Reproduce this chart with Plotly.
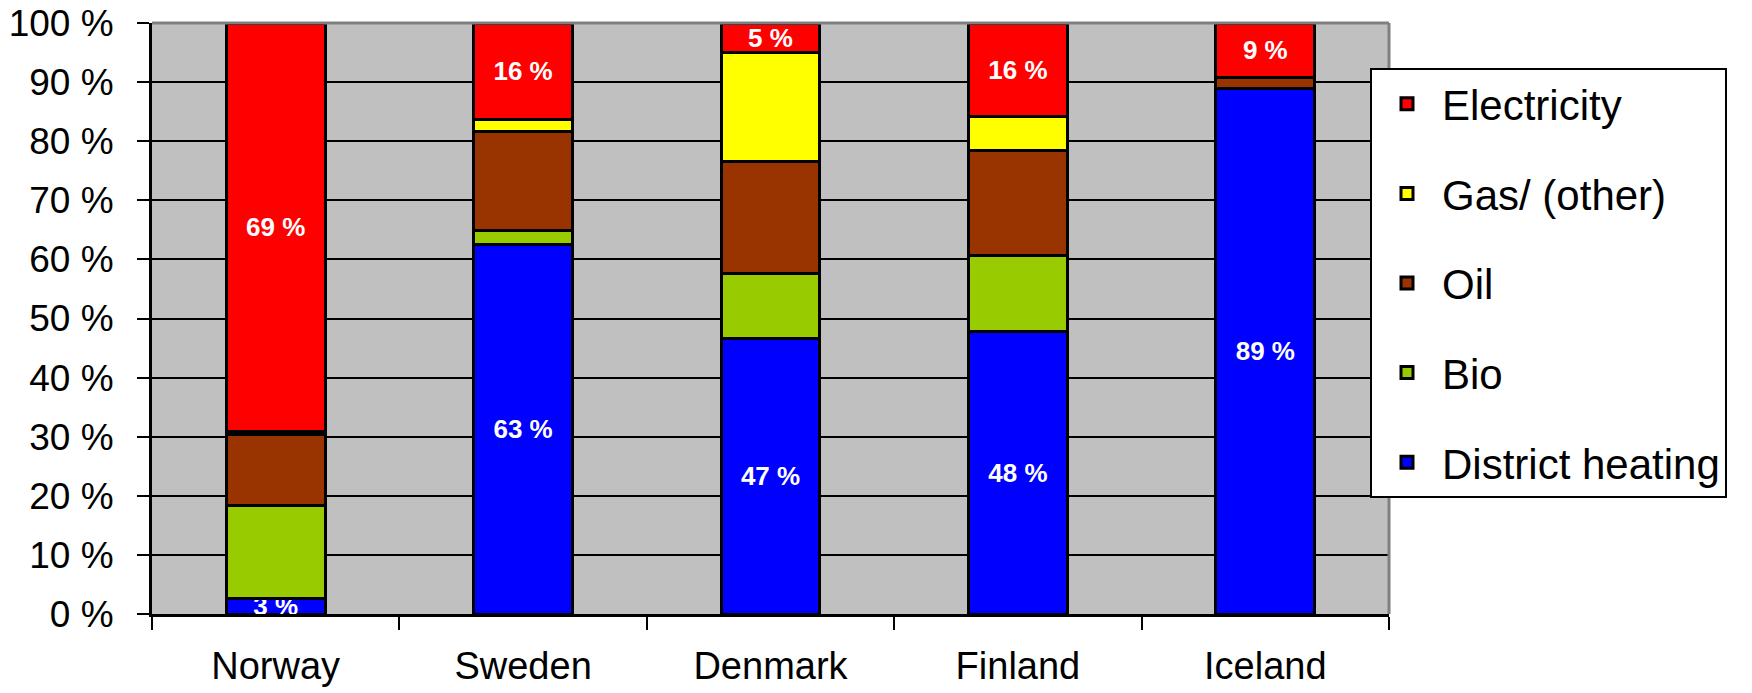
import plotly.graph_objects as go

countries = ["Norway", "Sweden", "Denmark", "Finland", "Iceland"]
district_heating = [2.6, 62.6, 46.7, 47.8, 88.9]
bio = [15.7, 2.3, 10.9, 12.8, 0.0]
oil = [12.0, 16.7, 18.9, 17.9, 1.9]
gas_other = [0.6, 2.0, 18.5, 5.6, 0.0]
electricity = [69.1, 16.4, 5.0, 15.9, 9.2]
y_ticks = [0, 10, 20, 30, 40, 50, 60, 70, 80, 90, 100]
y_tick_labels = [f"{v} %" for v in y_ticks]

series = [
    ("District heating", district_heating, "#0000FF", True, 5),
    ("Bio", bio, "#99CC00", False, 4),
    ("Oil", oil, "#993300", False, 3),
    ("Gas/ (other)", gas_other, "#FFFF00", False, 2),
    ("Electricity", electricity, "#FF0000", True, 1),
]

FONT = "Liberation Sans, Arial, sans-serif"

# page body adds an 8px offset; figure is sized so that it fills the window
W, H = 1744, 685
ML, MT, MR, MB = 144, 15, 363, 79
plot_w = W - ML - MR
plot_h = H - MT - MB

fig = go.Figure()
for name, vals, color, labelled, rank in series:
    fig.add_trace(go.Bar(
        x=countries, y=vals, name=name, legendgroup=name, legendrank=rank,
        marker=dict(color=color, line=dict(color="black", width=3)),
        width=0.4,
        text=[f"{round(v)} %" for v in vals] if labelled else None,
        textposition="inside" if labelled else "none",
        insidetextanchor="middle",
        constraintext="none",
        textangle=0,
        textfont=dict(family=FONT, size=26, color="white", weight="bold"),
    ))

fig.update_layout(
    width=W, height=H,
    margin=dict(l=ML, r=MR, t=MT, b=MB, autoexpand=False),
    barmode="stack",
    paper_bgcolor="white",
    plot_bgcolor="#C0C0C0",
    font=dict(family=FONT, color="black"),
    showlegend=True,
    legend=dict(
        x=(1362 - ML) / plot_w, y=(H - MB - 60) / plot_h,
        xanchor="left", yanchor="top",
        bgcolor="white", bordercolor="black", borderwidth=2,
        font=dict(family=FONT, size=42, color="black"),
        traceorder="grouped", tracegroupgap=32,
        itemwidth=60,
    ),
    xaxis=dict(
        showgrid=False, showline=True, linecolor="black", linewidth=3,
        ticks="outside", tickson="boundaries", ticklen=13, tickwidth=2,
        tickcolor="black",
        tickfont=dict(family=FONT, size=38, color="black"),
        ticklabelstandoff=16,
        ticklabeloverflow="allow",
        automargin=False,
    ),
    yaxis=dict(
        range=[0, 100], tickmode="array", tickvals=y_ticks, ticktext=y_tick_labels,
        showgrid=True, gridcolor="black", gridwidth=2,
        showline=True, linecolor="black", linewidth=3,
        ticks="outside", ticklen=12, tickwidth=2, tickcolor="black",
        tickfont=dict(family=FONT, size=37, color="black"),
        ticklabelstandoff=16,
        ticklabeloverflow="allow",
        zeroline=False,
        automargin=False,
    ),
    shapes=[
        dict(type="line", xref="paper", yref="paper", x0=0, x1=1, y0=1, y1=1,
             line=dict(color="#808080", width=3)),
        dict(type="line", xref="paper", yref="paper", x0=1, x1=1, y0=0, y1=1,
             line=dict(color="#808080", width=3)),
    ],
)

fig.write_html("out.html")
